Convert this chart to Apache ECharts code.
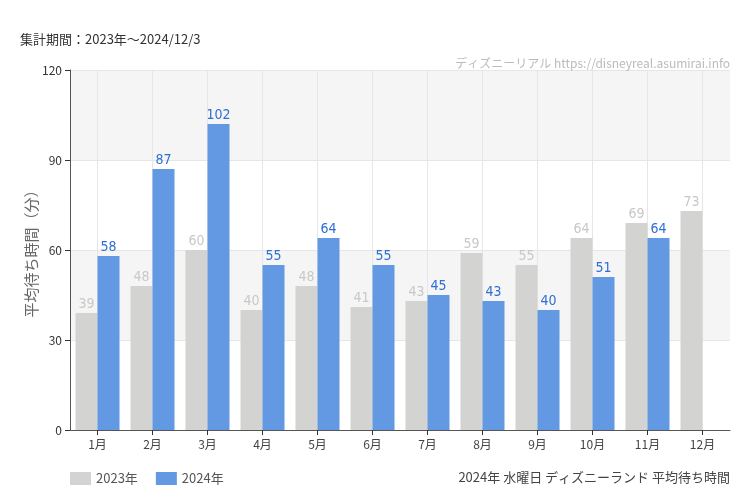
<!DOCTYPE html>
<html>
<head>
<meta charset="utf-8">
<script src="https://cdn.jsdelivr.net/npm/echarts@6/dist/echarts.min.js"></script>
<style>
html, body { margin: 0; padding: 0; background: #fff; }
#chart { width: 750px; height: 500px; }
</style>
</head>
<body>
<div id="chart"></div>
<script>
var months = ['1月', '2月', '3月', '4月', '5月', '6月', '7月', '8月', '9月', '10月', '11月', '12月'];
var data2023 = [39, 48, 60, 40, 48, 41, 43, 59, 55, 64, 69, 73];
var data2024 = [58, 87, 102, 55, 64, 55, 45, 43, 40, 51, 64, null];
var yTicks = [0, 30, 60, 90, 120];

var narrow = "'DejaVu Sans Condensed', 'Noto Sans CJK JP', sans-serif";
var jp = "'Noto Sans CJK JP', 'Noto Sans', sans-serif";

var chart = echarts.init(document.getElementById('chart'));
chart.setOption({
	animation: false,
	textStyle: { fontFamily: jp },
	title: [
		{
			text: '集計期間：2023年～2024/12/3',
			left: 15,
			top: 28,
			textStyle: { fontSize: 13, fontWeight: 'normal', color: '#333', fontFamily: jp }
		},
		{
			text: 'ディズニーリアル https://disneyreal.asumirai.info',
			right: 15,
			top: 52,
			textStyle: { fontSize: 12, fontWeight: 'normal', color: '#bbb', fontFamily: jp }
		},
		{
			text: '2024年 水曜日 ディズニーランド 平均待ち時間',
			right: 15,
			top: 466,
			textStyle: { fontSize: 13, fontWeight: 'normal', color: '#444', fontFamily: jp }
		}
	],
	legend: {
		left: 65,
		top: 467,
		itemWidth: 21,
		itemHeight: 13,
		itemGap: 18,
		icon: 'rect',
		textStyle: { fontSize: 13, color: '#555' },
		data: ['2023年', '2024年']
	},
	grid: { left: 70, right: 20, top: 70, bottom: 70, containLabel: false },
	xAxis: {
		type: 'category',
		data: months,
		axisLine: { lineStyle: { color: '#555' } },
		axisTick: { show: true, alignWithLabel: true, length: 5, lineStyle: { color: '#333' } },
		axisLabel: { color: '#444', fontSize: 12, margin: 8 },
		splitLine: { show: true, alignWithLabel: true, lineStyle: { color: '#e6e6e6' } }
	},
	yAxis: {
		type: 'value',
		min: yTicks[0],
		max: yTicks[yTicks.length - 1],
		interval: 30,
		name: '平均待ち時間（分）',
		nameLocation: 'middle',
		nameGap: 31,
		nameMoveOverlap: false,
		nameTextStyle: { fontSize: 15, color: '#666' },
		axisLine: { show: true, lineStyle: { color: '#555' } },
		axisTick: { show: true, length: 5, lineStyle: { color: '#333' } },
		axisLabel: { color: '#333', fontSize: 12 },
		splitLine: { show: true, lineStyle: { color: '#e6e6e6' } },
		splitArea: { show: true, areaStyle: { color: ['rgba(255,255,255,0)', '#f5f5f5'] } }
	},
	series: [
		{
			name: '2023年',
			type: 'bar',
			data: data2023,
			barGap: '0%',
			barCategoryGap: '20%',
			itemStyle: { color: '#d3d3d2' },
			label: { show: true, position: 'top', distance: 2, color: '#c8c8c8', fontSize: 14, fontFamily: narrow }
		},
		{
			name: '2024年',
			type: 'bar',
			data: data2024,
			itemStyle: { color: '#6399e2' },
			label: { show: true, position: 'top', distance: 2, color: '#2f6fd4', fontSize: 14, fontFamily: narrow }
		}
	]
});
</script>
</body>
</html>
